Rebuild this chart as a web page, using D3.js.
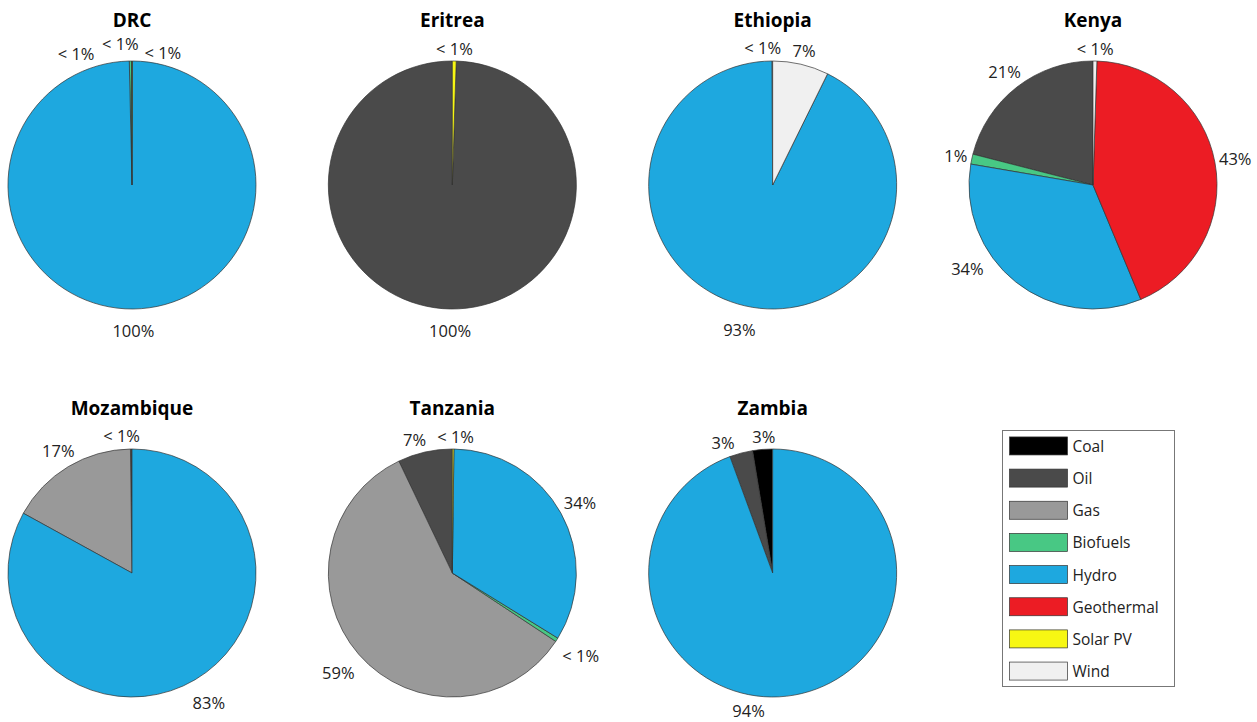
<!DOCTYPE html>
<html>
<head>
<meta charset="utf-8">
<script src="https://cdn.jsdelivr.net/npm/d3@7"></script>
<style>
  html, body { margin: 0; padding: 0; background: #fff; }
  svg text { font-family: "Open Sans", "Noto Sans", sans-serif; fill: #222; }
</style>
</head>
<body>
<div id="chart"></div>
<script>
// --- data ---
const sources = ["Coal", "Oil", "Gas", "Biofuels", "Hydro", "Geothermal", "Solar PV", "Wind"];
const sourceColors = ["#000000", "#4a4a4a", "#999999", "#48c884", "#1ea8df", "#ec1c24", "#f7f713", "#f0f0f0"];
const countries = ["DRC", "Eritrea", "Ethiopia", "Kenya", "Mozambique", "Tanzania", "Zambia"];
// share of electricity generation (%), same order as sources
const shareDRC        = [0, 0.05, 0, 0.3, 99.6, 0, 0.05, 0];
const shareEritrea    = [0, 99.5, 0, 0, 0, 0, 0.5, 0];
const shareEthiopia   = [0, 0.1, 0, 0, 92.6, 0, 0, 7.3];
const shareKenya      = [0, 21, 0, 1.3, 34, 43.2, 0, 0.5];
const shareMozambique = [0, 0.2, 16.8, 0, 83.0, 0, 0, 0];
const shareTanzania   = [0, 7.1, 58.6, 0.5, 33.6, 0, 0.2, 0];
const shareZambia     = [2.6, 3.0, 0, 0, 94.4, 0, 0, 0];
const shares = [shareDRC, shareEritrea, shareEthiopia, shareKenya, shareMozambique, shareTanzania, shareZambia];

// hand-placed label tweaks, like the edited original
// a: degrees (+ = counterclockwise), r: extra pixels outward
const labelNudge = {
    "DRC|Oil": { a: 23, r: 0 },
    "DRC|Biofuels": { a: 4, r: 4 },
    "DRC|Solar PV": { a: -13, r: -4 },
    "Ethiopia|Oil": { a: 4, r: 0 },
    "Kenya|Hydro": { a: -18, r: 0 },
    "Mozambique|Oil": { a: 4, r: 0 },
    "Tanzania|Oil": { a: 3, r: 0 },
    "Tanzania|Solar PV": { a: -1, r: 0 },
    "Zambia|Coal": { a: -1, r: 0 },
    "Zambia|Oil": { a: 6, r: 0 },
    "Zambia|Hydro": { a: -20, r: -8 }
};

// --- canvas ---
const W = 1257, H = 722;
const svg = d3.select("#chart").append("svg")
    .attr("width", W).attr("height", H)
    .attr("viewBox", `0 0 ${W} ${H}`);

const R = 124;
const colX = d3.scalePoint().domain([0, 1, 2, 3]).range([132, 1093]);
const rowY = d3.scalePoint().domain([0, 1]).range([185, 573]);

const pie = d3.pie().sort(null).value(d => d.v).startAngle(0).endAngle(-2 * Math.PI);
const arc = d3.arc().innerRadius(0).outerRadius(R);

function labelText(v) {
    return v < 1 ? "< 1%" : Math.round(v) + "%";
}

countries.forEach((name, i) => {
    const cx = colX(i % 4), cy = rowY(Math.floor(i / 4));
    const g = svg.append("g").attr("transform", `translate(${cx},${cy})`);

    g.append("text")
        .attr("x", 0).attr("y", -R - 34)
        .attr("text-anchor", "middle")
        .style("font-size", "19px").style("font-weight", "bold")
        .style("fill", "#000")
        .text(name);

    const data = shares[i].map((v, k) => ({ v: v, k: k })).filter(d => d.v > 0);
    const arcs = pie(data);

    g.selectAll("path.slice")
        .data(arcs)
        .enter().append("path")
        .attr("class", "slice")
        .attr("d", arc)
        .attr("fill", d => sourceColors[d.data.k])
        .attr("stroke", "#333")
        .attr("stroke-width", 0.7)
        .attr("stroke-linejoin", "round");

    arcs.forEach(a => {
        const nudge = labelNudge[name + "|" + sources[a.data.k]] || { a: 0, r: 0 };
        const m = (a.startAngle + a.endAngle) / 2 - nudge.a * Math.PI / 180;
        const ux = Math.sin(m), uy = -Math.cos(m);
        const t = g.append("text")
            .attr("text-anchor", "middle")
            .attr("dominant-baseline", "central")
            .style("font-size", "16.5px")
            .text(labelText(a.data.v));
        const bb = t.node().getBBox();
        const half = 0.5 * (bb.width * Math.abs(ux) + bb.height * 0.8 * Math.abs(uy));
        const dist = R + 3 + 9 * Math.max(0, uy) + half + nudge.r;
        t.attr("x", ux * dist).attr("y", uy * dist);
    });
});

// --- legend ---
const legend = svg.append("g").attr("transform", "translate(1002.5,430.5)");
const legY = d3.scaleBand().domain(sources).range([0, 256]).paddingInner(0.44).paddingOuter(0.2);

legend.append("rect")
    .attr("width", 172).attr("height", 256)
    .attr("fill", "#fff").attr("stroke", "#777").attr("stroke-width", 1);

legend.selectAll("rect.sw")
    .data(sources)
    .enter().append("rect")
    .attr("class", "sw")
    .attr("x", 7).attr("y", d => legY(d))
    .attr("width", 58).attr("height", legY.bandwidth())
    .attr("fill", (d, k) => sourceColors[k])
    .attr("stroke", "#333").attr("stroke-width", 0.7);

legend.selectAll("text.lab")
    .data(sources)
    .enter().append("text")
    .attr("class", "lab")
    .attr("x", 70).attr("y", d => legY(d) + legY.bandwidth() / 2)
    .attr("dominant-baseline", "central")
    .style("font-size", "15.5px")
    .text(d => d);
</script>
</body>
</html>
